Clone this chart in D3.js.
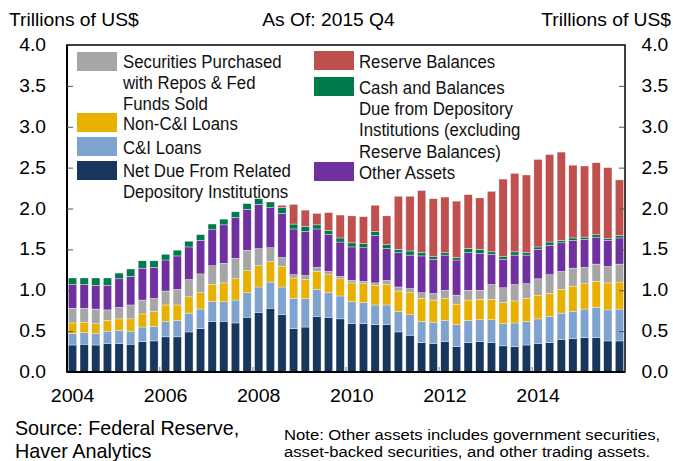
<!DOCTYPE html>
<html><head><meta charset="utf-8">
<script src="https://cdn.jsdelivr.net/npm/d3@7/dist/d3.min.js"></script>
<style>
body{margin:0;background:#fff;}
svg{display:block;}
text{font-family:"Liberation Sans",Arial,sans-serif;}
</style></head>
<body><svg id="c" width="673" height="461"></svg>
<script>
const quarters = [];
for (let y = 2004; y <= 2015; y++) for (let q = 1; q <= 4; q++) quarters.push(y + " Q" + q);
const yearTicks = ["2004 Q1","2006 Q1","2008 Q1","2010 Q1","2012 Q1","2014 Q1"];
const yTicks = [0,0.5,1,1.5,2,2.5,3,3.5,4];

const netDue = [.33,.34,.33,.35,.35,.34,.37,.38,.43,.43,.49,.53,.62,.62,.60,.67,.73,.78,.70,.53,.55,.68,.67,.65,.59,.59,.58,.58,.49,.45,.36,.35,.37,.31,.36,.37,.36,.32,.31,.33,.35,.36,.40,.41,.42,.42,.38,.38];
const ciLoans = [.14,.14,.14,.15,.16,.16,.18,.18,.19,.20,.23,.24,.24,.24,.28,.30,.31,.32,.34,.37,.35,.33,.30,.28,.27,.26,.24,.24,.25,.25,.26,.26,.26,.27,.27,.27,.28,.27,.29,.29,.30,.32,.32,.33,.35,.37,.38,.39];
const nonCiLoans = [.13,.13,.12,.13,.14,.15,.16,.18,.20,.19,.20,.20,.21,.23,.26,.27,.26,.25,.25,.25,.23,.22,.22,.21,.23,.23,.24,.25,.25,.27,.28,.27,.27,.25,.25,.25,.25,.26,.27,.28,.29,.28,.29,.31,.31,.32,.33,.33];
const repos = [.18,.17,.18,.13,.14,.17,.17,.16,.17,.19,.21,.23,.23,.24,.25,.25,.21,.17,.11,.04,.05,.05,.04,.03,.03,.03,.03,.05,.05,.05,.07,.08,.10,.11,.12,.11,.18,.18,.20,.18,.20,.23,.22,.22,.20,.21,.20,.22];
const otherAssets = [.29,.29,.29,.30,.35,.35,.39,.38,.38,.41,.40,.41,.44,.47,.50,.50,.54,.49,.54,.56,.54,.47,.45,.42,.41,.41,.58,.39,.42,.41,.45,.42,.43,.43,.46,.45,.37,.35,.36,.35,.36,.36,.35,.34,.34,.33,.32,.32];
const cashDue = [.08,.08,.09,.09,.07,.09,.09,.08,.07,.07,.07,.07,.07,.07,.07,.07,.07,.07,.07,.06,.06,.05,.05,.05,.05,.05,.05,.05,.04,.05,.04,.03,.03,.03,.05,.05,.03,.03,.04,.03,.03,.04,.03,.03,.03,.03,.02,.03];
const reserves = [0,0,0,0,0,0,0,0,0,0,0,0,0,0,0,0,0,0,.03,.24,.20,.14,.22,.28,.33,.33,.32,.35,.65,.67,.76,.71,.68,.69,.66,.63,.74,.95,.96,.95,1.07,1.07,1.08,.89,.87,.88,.87,.68];

const keys = ["netDue","ciLoans","nonCiLoans","repos","otherAssets","cashDue","reserves"];
const seriesArrays = {netDue, ciLoans, nonCiLoans, repos, otherAssets, cashDue, reserves};
const colors = {netDue:"#17375e", ciLoans:"#7ea3d0", nonCiLoans:"#e8b000", repos:"#a6a6a6", otherAssets:"#7030a0", cashDue:"#007a4b", reserves:"#c0504d"};

const rows = quarters.map((q,i)=>{const r={q}; keys.forEach(k=>r[k]=seriesArrays[k][i]); return r;});

const svg = d3.select("#c");
const L=67,R=625,T=45,B=372;
const x = d3.scaleBand().domain(quarters).range([L,R]).paddingInner(0.29).paddingOuter(0.12);
const y = d3.scaleLinear().domain([0,4]).range([B,T]);

const stacked = d3.stack().keys(keys)(rows);
svg.append("g").selectAll("g").data(stacked).join("g")
  .attr("fill", d=>colors[d.key])
  .selectAll("rect").data(d=>d).join("rect")
  .attr("x", d=>x(d.data.q)).attr("width", x.bandwidth())
  .attr("y", d=>y(d[1])).attr("height", d=>Math.max(0,y(d[0])-y(d[1])))
  .attr("stroke","#fff").attr("stroke-width",0.5).attr("stroke-opacity",0.7);

// frame
svg.append("rect").attr("x",L).attr("y",T).attr("width",R-L).attr("height",B-T)
  .attr("fill","none").attr("stroke","#000").attr("stroke-width",1.5);
svg.append("line").attr("x1",L).attr("x2",R).attr("y1",B).attr("y2",B).attr("stroke","#000").attr("stroke-width",2.2);
svg.append("line").attr("x1",L).attr("x2",L).attr("y1",T).attr("y2",B).attr("stroke","#000").attr("stroke-width",2);

const AX_FS = 17.5, AX_K = 1.1;
function squeeze(sel, k){
  sel.each(function(){
    const t = d3.select(this);
    const tx = +(t.attr("x")||0);
    t.attr("x",0).attr("transform",`translate(${tx},0) scale(${k},1)`);
  });
}

// y axes
const fmt = d3.format(".1f");
const ax = svg.append("g").attr("transform",`translate(${L},0)`)
  .call(d3.axisLeft(y).tickValues(yTicks).tickFormat(fmt).tickSizeInner(-6).tickSizeOuter(0).tickPadding(21));
const ax2 = svg.append("g").attr("transform",`translate(${R},0)`)
  .call(d3.axisRight(y).tickValues(yTicks).tickFormat(fmt).tickSizeInner(-6).tickSizeOuter(0).tickPadding(16.5));
[ax,ax2].forEach(a=>{
  a.select(".domain").remove();
  a.selectAll(".tick line").attr("stroke","#555").attr("stroke-width",1);
  a.selectAll(".tick text").attr("font-size",AX_FS).attr("fill","#000").attr("font-family",null);
  squeeze(a.selectAll(".tick text"), AX_K);
  a.selectAll(".tick").filter(d=>d===0||d===4).select("line").remove();
});

// x axis
const xa = svg.append("g").attr("transform",`translate(0,${B})`)
  .call(d3.axisBottom(x).tickValues(yearTicks).tickFormat(d=>d.slice(0,4)).tickSize(0).tickPadding(18));
xa.select(".domain").remove();
xa.selectAll(".tick text").attr("font-size",AX_FS).attr("fill","#000").attr("font-family",null);
squeeze(xa.selectAll(".tick text"), 1.12);
const half = x.step()*x.paddingInner()/2;
svg.append("g").selectAll("line").data(yearTicks.slice(1)).join("line")
  .attr("x1",d=>x(d)-half).attr("x2",d=>x(d)-half).attr("y1",B-1).attr("y2",B-5)
  .attr("stroke","#777").attr("stroke-width",1);

function label(px,py,str,fs,k,anchor){
  return svg.append("text").attr("transform",`translate(${px},${py}) scale(${k},1)`)
    .attr("font-size",fs).attr("text-anchor",anchor||"start").attr("fill","#000").text(str);
}

// titles
label(9,25.5,"Trillions of US$",AX_FS,1.1);
label(328.5,25.5,"As Of: 2015 Q4",AX_FS,1.1,"middle");
label(671,25.5,"Trillions of US$",AX_FS,1.1,"end");

// legend
const legend = [
  {key:"repos", sx:77, sy:52, tx:123, ty:[62,83,104], lines:["Securities Purchased","with Repos & Fed","Funds Sold"]},
  {key:"nonCiLoans", sx:77, sy:113, tx:123, ty:[124], lines:["Non-C&I Loans"]},
  {key:"ciLoans", sx:77, sy:137, tx:123, ty:[148], lines:["C&I Loans"]},
  {key:"netDue", sx:77, sy:161, tx:123, ty:[171,192], lines:["Net Due From Related","Depository Institutions"]},
  {key:"reserves", sx:314, sy:51, tx:359, ty:[62], lines:["Reserve Balances"]},
  {key:"cashDue", sx:314, sy:77, tx:359, ty:[88,109,130,152], lines:["Cash and Balances","Due from Depository","Institutions (excluding","Reserve Balances)"]},
  {key:"otherAssets", sx:314, sy:162, tx:359, ty:[173], lines:["Other Assets"]}
];
const lg = svg.append("g");
legend.forEach(it=>{
  lg.append("rect").attr("x",it.sx).attr("y",it.sy).attr("width",40).attr("height",19).attr("fill",colors[it.key]);
  it.lines.forEach((t,i)=>{
    lg.append("text").attr("transform",`translate(${it.tx},${it.ty[i]}) scale(0.96,1)`).attr("dy","0.35em")
      .attr("font-size",17.5).attr("fill","#111").text(t);
  });
});

// footer
label(15,435,"Source: Federal Reserve,",20,0.984);
label(15,458,"Haver Analytics",20,0.99);
label(284,440,"Note: Other assets includes government securities,",15,1.11);
label(284,457,"asset-backed securities, and other trading assets.",15,1.11);
</script></body></html>
